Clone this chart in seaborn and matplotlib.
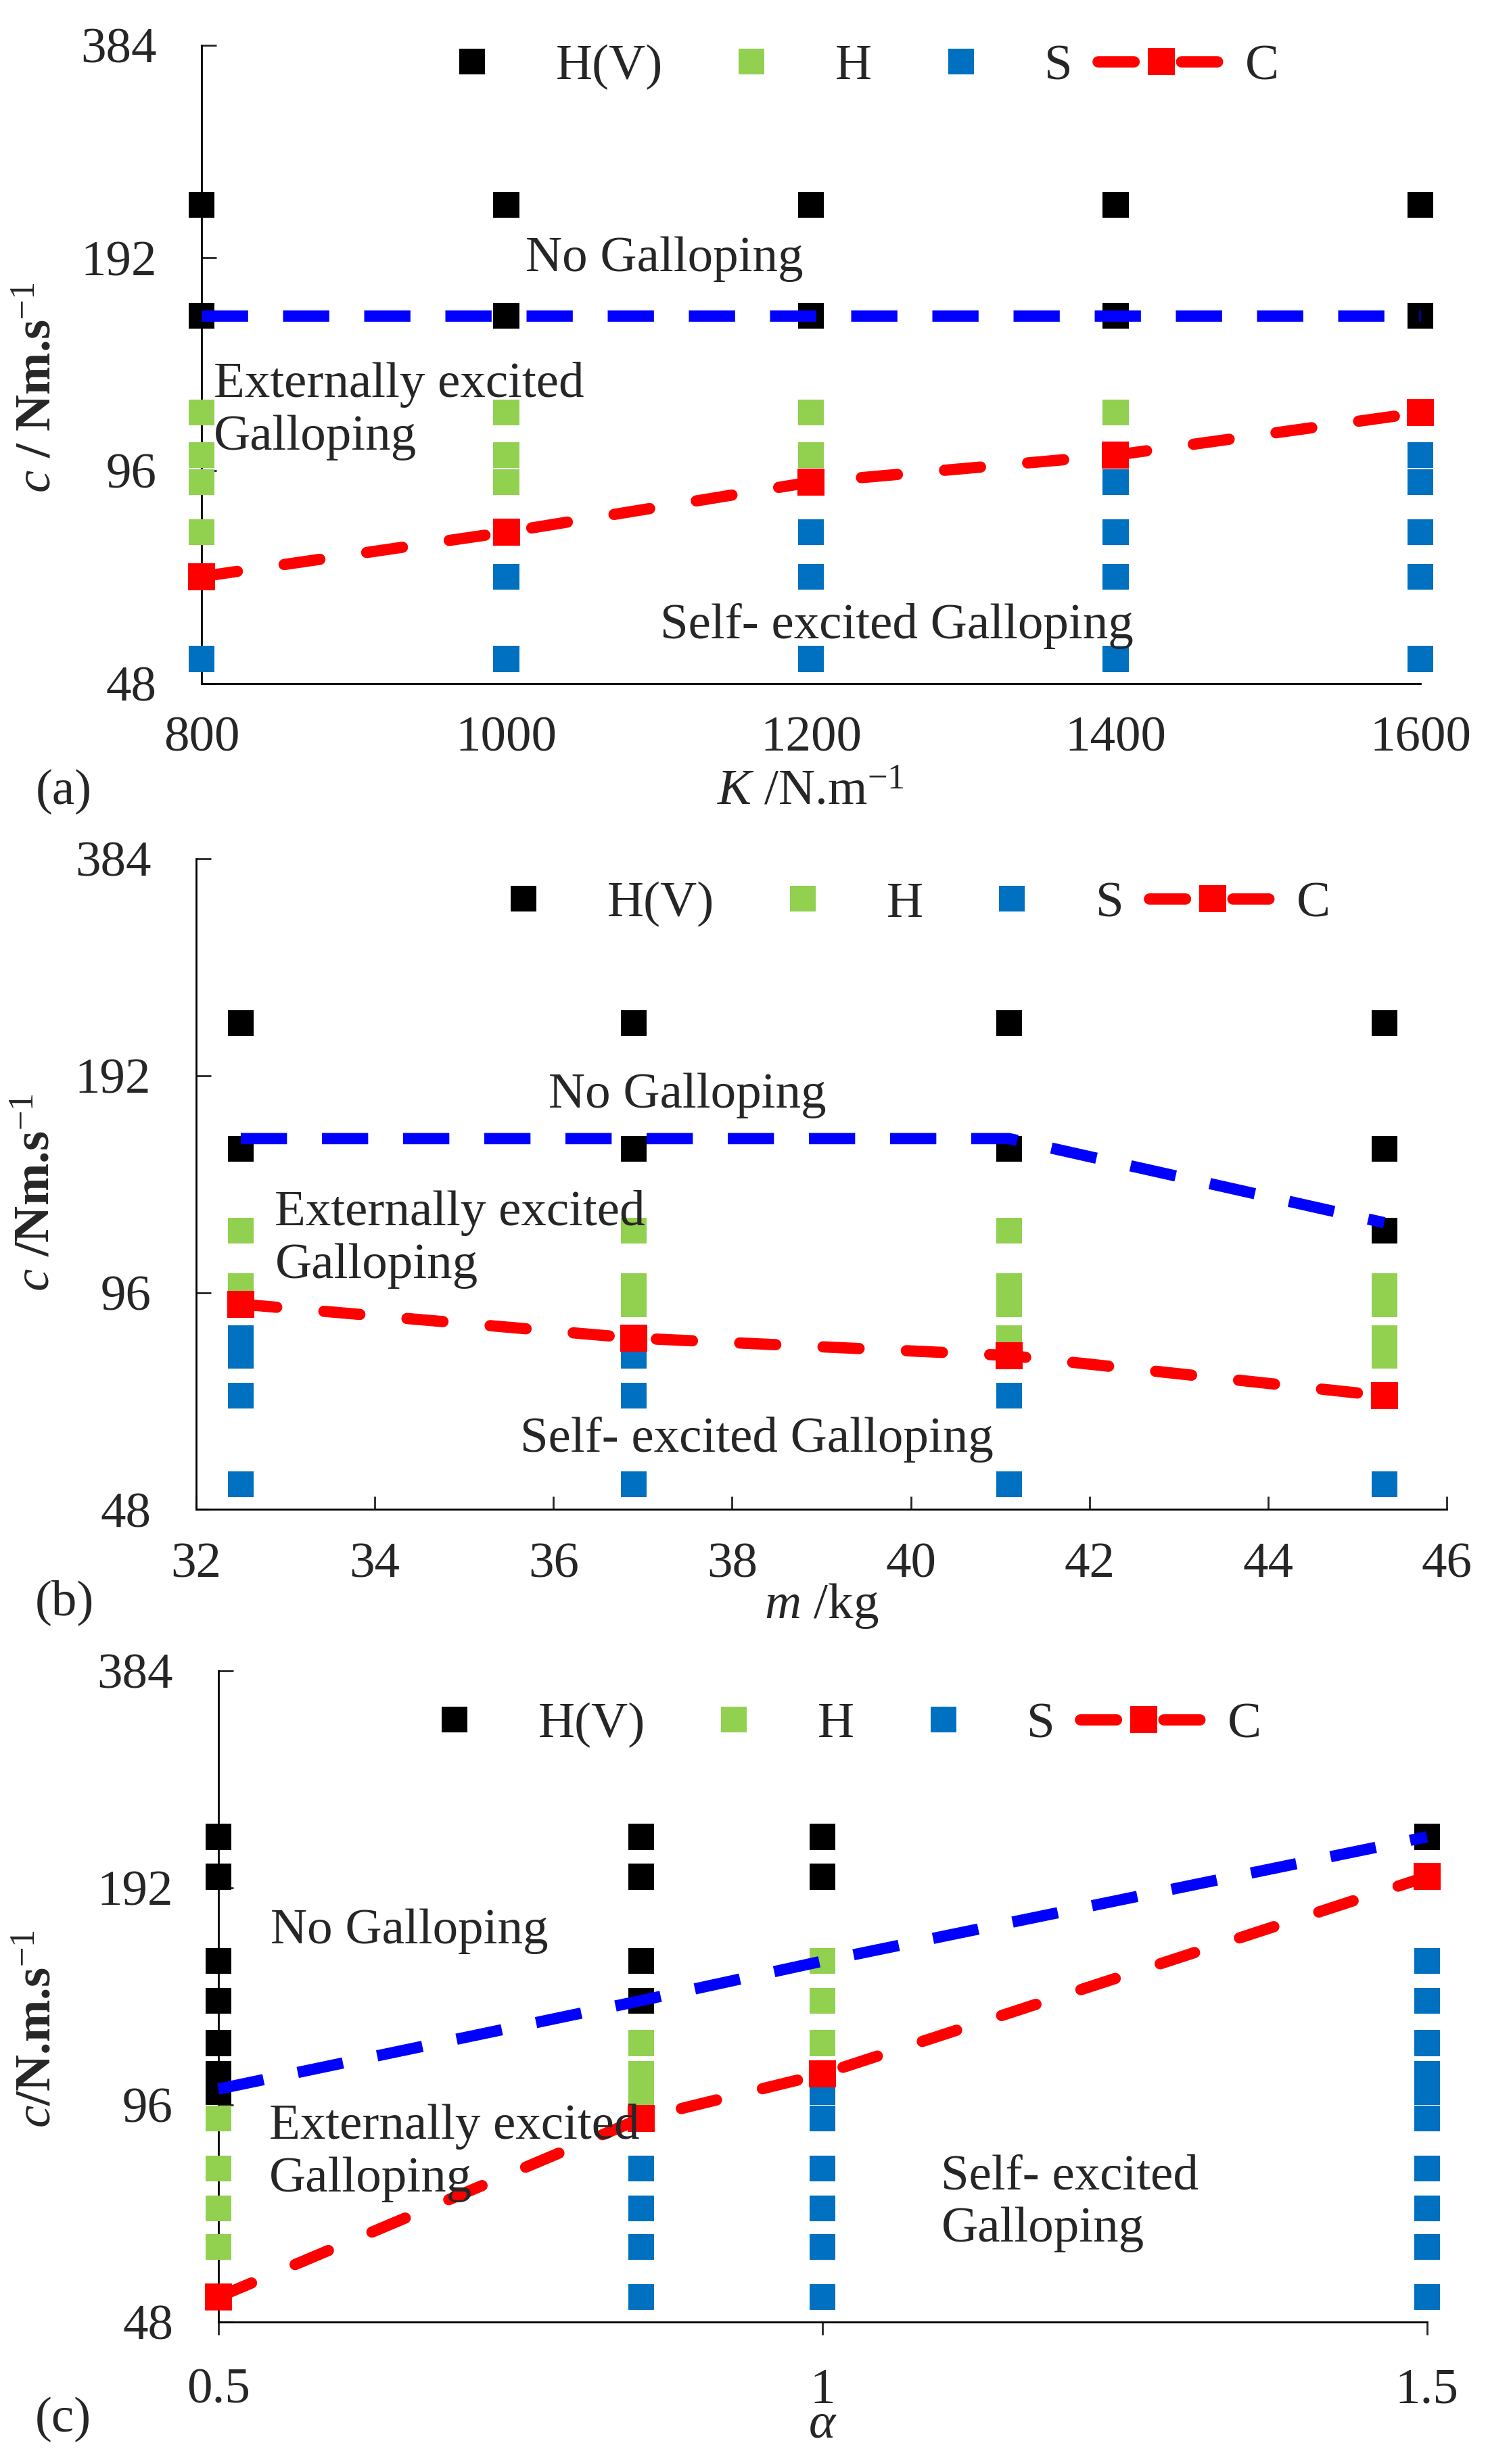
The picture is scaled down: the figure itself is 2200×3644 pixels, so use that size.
import matplotlib
matplotlib.use("Agg")
import matplotlib.pyplot as plt
import pandas as pd
import seaborn as sns
from matplotlib.lines import Line2D
from matplotlib.ticker import NullLocator

# (a) stiffness K, damping c per column
a_x = [800, 1000, 1200, 1400, 1600]
a_hv = [[228, 159], [228, 159], [228, 159], [228, 159], [228, 159]]
a_h = [[116, 101, 92.5, 78.6], [116, 101, 92.5], [116, 101], [116], []]
a_s = [[52], [68, 52], [78.6, 68, 52], [92.5, 78.6, 68, 52], [101, 92.5, 78.6, 68, 52]]
a_c = [68, 78.6, 92.5, 101, 116]
a_bound = [159, 159, 159, 159, 159]

# (b) mass m
b_x = [32.5, 36.9, 41.1, 45.3]
b_hv = [[227, 152], [227, 152], [227, 152], [227, 152, 117]]
b_h = [[117, 98], [117, 98, 92.5], [117, 98, 92.5, 83], [98, 92.5, 83, 78.5]]
b_s = [[83, 78.5, 69, 52], [78.5, 69, 52], [69, 52], [52]]
b_c = [92.5, 83, 78.5, 69]
b_bound = [157, 157, 157, 120]

# (c) alpha
c_x = [0.5, 0.85, 1.0, 1.5]
c_hv = [[226, 199, 152, 134, 117, 106, 100], [226, 199, 152, 134], [226, 199], [226]]
c_h = [[92, 78.4, 69, 61], [117, 106, 100], [152, 134, 117], []]
c_s = [[], [78.4, 69, 61, 52], [100, 92, 78.4, 69, 61, 52],
       [152, 134, 117, 106, 100, 92, 78.4, 69, 61, 52]]
c_c = [52, 92, 106, 199]
c_bound = [101, 134, 152, 226]

y_ticks = [48, 96, 192, 384]
legend_labels = ["H(V)", "H", "S", "C"]

sns.set_style("ticks")
plt.rcParams["font.family"] = ["Liberation Serif", "DejaVu Serif"]
plt.rcParams["mathtext.fontset"] = "custom"
plt.rcParams["mathtext.rm"] = "Liberation Serif"
plt.rcParams["mathtext.it"] = "Liberation Serif:italic"
plt.rcParams["mathtext.bf"] = "Liberation Serif:bold"

FS = 54
palette = {"H(V)": "#000000", "H": "#92D050", "S": "#0070C0"}
RED = "#FF0000"
BLUE = "#0000FF"
MS = 27.5


def long_table(xs, hv, h, s):
    rows = []
    for name, cols in (("H(V)", hv), ("H", h), ("S", s)):
        for x, ys in zip(xs, cols):
            for y in ys:
                rows.append((x, y, name))
    return pd.DataFrame(rows, columns=["x", "c", "state"])


def draw(ax, xs, hv, h, s, c, bound):
    df = long_table(xs, hv, h, s)
    sns.scatterplot(data=df, x="x", y="c", hue="state", palette=palette,
                    marker="s", s=MS ** 2, linewidth=0, legend=False,
                    clip_on=False, zorder=3, ax=ax)
    sns.lineplot(x=xs, y=c, color=RED, lw=12, linestyle=(0, (3.2, 4.2)),
                 dash_capstyle="round", marker="s", markersize=MS + 2,
                 markeredgewidth=0, errorbar=None, clip_on=False, zorder=4, ax=ax)
    sns.lineplot(x=xs, y=bound, color=BLUE, lw=12, linestyle=(0, (4.1, 3.1)),
                 errorbar=None, clip_on=False, zorder=5, ax=ax)

    ax.set_yscale("log", base=2)
    ax.set_ylim(48, 384)
    ax.set_yticks(y_ticks)
    ax.set_yticklabels([str(t) for t in y_ticks])
    ax.yaxis.set_minor_locator(NullLocator())
    ax.tick_params(axis="y", direction="in", length=16, width=2, pad=48, labelsize=FS)
    ax.tick_params(axis="x", labelsize=FS, pad=35, width=2)
    sns.despine(ax=ax)
    for sp in ("left", "bottom"):
        ax.spines[sp].set_linewidth(2)
        ax.spines[sp].set_color("black")

    handles = [Line2D([], [], marker="s", color=palette[k], linestyle="none",
                      markersize=MS, markeredgewidth=0) for k in ("H(V)", "H", "S")]
    handles.append(Line2D([], [], color=RED, lw=12, linestyle=(0, (3.2, 4.2)),
                          dash_capstyle="round", marker="s", markersize=MS + 2,
                          markeredgewidth=0))
    return handles


def finish(ax, handles, leg_pos, xlabel, xlab_y, ylabel, ylab_pos, notes):
    ax.legend(handles, legend_labels, ncol=4, loc="center", bbox_to_anchor=leg_pos,
              frameon=False, fontsize=FS, handlelength=2.5, handletextpad=0.4,
              columnspacing=0.5)
    ax.set_xlabel(xlabel, fontsize=FS)
    ax.xaxis.set_label_coords(0.5, xlab_y)
    ax.xaxis.label.set_va("center")
    ax.set_ylabel(ylabel, fontsize=FS, fontweight="bold")
    ax.yaxis.set_label_coords(*ylab_pos)
    ax.yaxis.label.set_va("center")
    for fx, fy, txt in notes:
        ax.text(fx, fy, txt, transform=ax.transAxes, fontsize=FS,
                ha="left", va="center", zorder=6)


fig = plt.figure(figsize=(22, 36.44), dpi=100)

# (a)
ax1 = fig.add_axes([0.1355, 0.7226, 0.819, 0.2591])
h1 = draw(ax1, a_x, a_hv, a_h, a_s, a_c, a_bound)
ax1.set_xlim(800, 1600)
ax1.set_xticks(a_x)
ax1.tick_params(axis="x", length=0)
finish(ax1, h1, (0.527, 0.966), r"$K$ /N.m$^{-1}$", -0.171,
       r"$c$ / Nm.s$^{-1}$", (-0.134, 0.463),
       [(0.266, 0.665, "No Galloping"),
        (0.010, 0.427, "Externally excited\nGalloping"),
        (0.376, 0.090, "Self- excited Galloping")])

# (b)
ax2 = fig.add_axes([0.1318, 0.3874, 0.8405, 0.2641])
h2 = draw(ax2, b_x, b_hv, b_h, b_s, b_c, b_bound)
ax2.set_xlim(32, 46)
ax2.set_xticks(range(32, 47, 2))
ax2.tick_params(axis="x", direction="in", length=14)
finish(ax2, h2, (0.559, 0.930), r"$m$ /kg", -0.148,
       r"$c$ /Nm.s$^{-1}$", (-0.127, 0.487),
       [(0.282, 0.636, "No Galloping"),
        (0.063, 0.415, "Externally excited\nGalloping"),
        (0.259, 0.107, "Self- excited Galloping")])

# (c)
ax3 = fig.add_axes([0.1467, 0.0576, 0.8123, 0.2643])
h3 = draw(ax3, c_x, c_hv, c_h, c_s, c_c, c_bound)
ax3.set_xlim(0.5, 1.5)
ax3.set_xticks([0.5, 1, 1.5])
ax3.set_xticklabels(["0.5", "1", "1.5"])
ax3.tick_params(axis="x", direction="out", length=14)
finish(ax3, h3, (0.503, 0.917), r"$\alpha$", -0.158,
       r"$c$/N.m.s$^{-1}$", (-0.149, 0.450),
       [(0.043, 0.600, "No Galloping"),
        (0.042, 0.260, "Externally excited\nGalloping"),
        (0.598, 0.182, "Self- excited\nGalloping")])

fig.text(0.0427, 0.6784, "(a)", fontsize=FS, ha="center", va="center")
fig.text(0.0432, 0.3495, "(b)", fontsize=FS, ha="center", va="center")
fig.text(0.0423, 0.0181, "(c)", fontsize=FS, ha="center", va="center")

fig.savefig("out.png", dpi=100)
